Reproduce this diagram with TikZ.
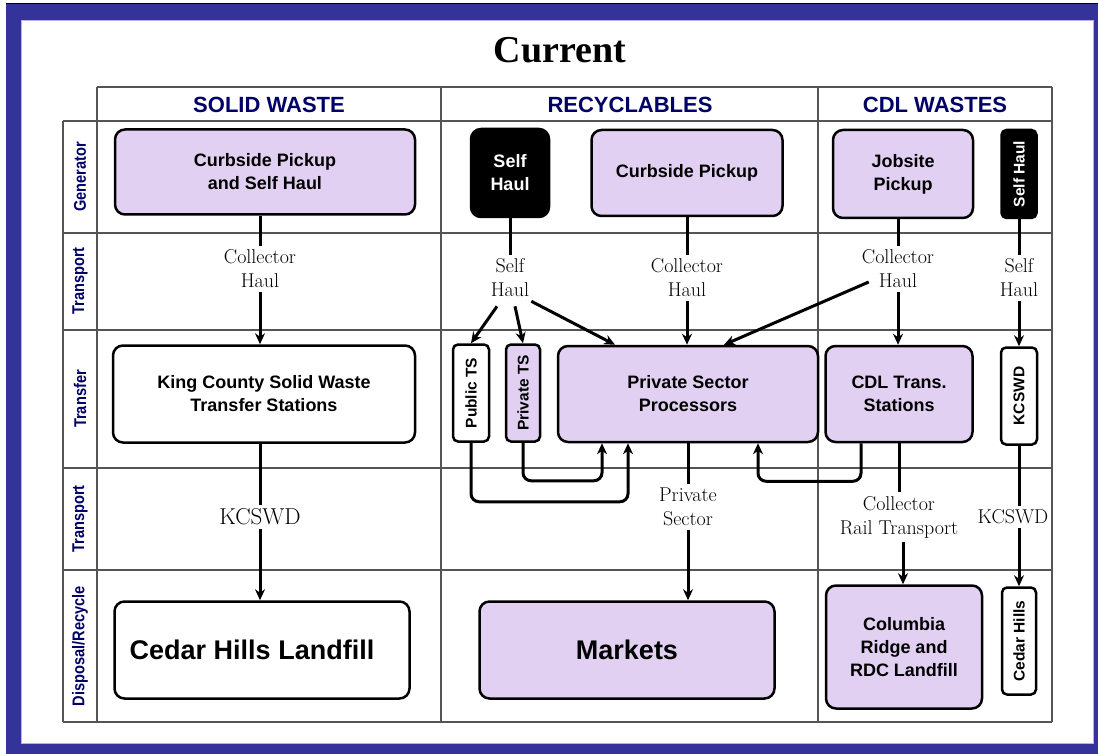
\documentclass[tikz,border=0pt]{standalone}
\usepackage{fontspec}
\usetikzlibrary{arrows.meta}
\newfontfamily\sansbold{Liberation Sans}
\newfontfamily\rowfont{Liberation Sans}[FakeStretch=0.86]
\newfontfamily\titlefont{Liberation Serif}
\definecolor{framebl}{RGB}{51,51,153}
\definecolor{framelav}{RGB}{196,170,240}
\definecolor{boxlav}{RGB}{226,208,242}
\definecolor{headnavy}{RGB}{0,0,102}
\definecolor{gridgray}{RGB}{85,85,85}
\tikzset{
	lavbox/.style={draw, line width=2.5pt, rounded corners=10pt, fill=boxlav, align=center, inner sep=0pt,
		font=\sansbold\bfseries\fontsize{18}{23}\selectfont},
	whitebox/.style={lavbox, fill=white},
	blackbox/.style={lavbox, fill=black, text=white},
	thinbox/.style={rounded corners=5pt, font=\sansbold\bfseries\fontsize{15.5}{18}\selectfont},
	bigtext/.style={font=\sansbold\bfseries\fontsize{27}{32}\selectfont},
	haultext/.style={align=center, inner sep=4pt, font=\fontsize{20}{24}\selectfont},
	colhead/.style={text=headnavy, font=\sansbold\bfseries\fontsize{22}{26}\selectfont},
	rowhead/.style={text=headnavy, rotate=90, font=\rowfont\bfseries\fontsize{17}{20}\selectfont},
	gridline/.style={draw=gridgray, line width=1.3pt},
	flowline/.style={line width=3pt},
	flowarrow/.style={line width=3pt, -{Stealth[length=11pt,width=10pt]}}
}
\begin{document}
\begin{tikzpicture}[x=1pt,y=-1pt]
		\useasboundingbox (0,0) rectangle (1098,754);

		% frame
		\fill[framebl] (6,4) rectangle (1098,754);
		\fill[white] (21,21) rectangle (1093,743);
		\draw[framelav, line width=1pt] (21,21) rectangle (1093,743);
		\draw[black, line width=1pt] (6,4) -- (1098,4);

		\node at (560,50) {\titlefont\bfseries\fontsize{38}{44}\selectfont Current};

		% table
		\draw[gridline] (97,87) -- (1052,87);
		\draw[gridline] (63,121) -- (1052,121);
		\draw[gridline] (63,233) -- (1052,233);
		\draw[gridline] (63,330) -- (1052,330);
		\draw[gridline] (63,468) -- (1052,468);
		\draw[gridline] (63,570) -- (1052,570);
		\draw[gridline] (63,722) -- (1052,722);

		\draw[gridline] (63,121) -- (63,722);
		\draw[gridline] (97,87) -- (97,722);
		\draw[gridline] (441,87) -- (441,722);
		\draw[gridline] (818,87) -- (818,722);
		\draw[gridline] (1052,87) -- (1052,722);

		\node[colhead] (sw_head) at (269,105) {SOLID WASTE};
		\node[colhead] (rc_head) at (630,105) {RECYCLABLES};
		\node[colhead] (cdl_head) at (935,105) {CDL WASTES};

		\node[rowhead] (gen_row) at (80,177) {Generator};
		\node[rowhead] (tp1_row) at (80,281) {Transport};
		\node[rowhead] (tf_row) at (80,399) {Transfer};
		\node[rowhead] (tp2_row) at (80,519) {Transport};
		\node[rowhead] (dis_row) at (80,646) {Disposal/Recycle};

		% solid waste
		\node[lavbox, minimum width=300, minimum height=85] (sw_gen) at (265,172) {Curbside Pickup\\and Self Haul};
		\node[haultext] (sw_t1) at (260,269) {Collector\\Haul};
		\node[whitebox, minimum width=302, minimum height=97] (sw_ts) at (264,394) {King County Solid Waste\\Transfer Stations};
		\node[haultext, font=\fontsize{23}{26}\selectfont] (sw_t2) at (260,517) {KCSWD};
		\node[whitebox, bigtext, minimum width=295, minimum height=97] (sw_land) at (262,650) {\hspace*{-20pt}Cedar Hills Landfill};

		% recyclables
		\node[blackbox, minimum width=78, minimum height=88] (rc_self) at (510,173) {Self\\Haul};
		\node[lavbox, minimum width=191, minimum height=86] (rc_curb) at (687,173) {Curbside Pickup};
		\node[haultext] (rc_t1) at (510,278) {Self\\Haul};
		\node[haultext] (rc_t2) at (687,278) {Collector\\Haul};
		\node[whitebox, thinbox, minimum width=36, minimum height=97] (rc_pub) at (471,393) {\rotatebox{90}{Public TS}};
		\node[lavbox, thinbox, minimum width=34, minimum height=97] (rc_priv) at (523,393) {\rotatebox{90}{Private TS}};
		\node[lavbox, minimum width=260, minimum height=96] (rc_proc) at (688,394) {Private Sector\\Processors};
		\node[haultext] (rc_t3) at (688,507) {Private\\Sector};
		\node[lavbox, bigtext, minimum width=295, minimum height=97] (rc_mkt) at (627,650) {Markets};

		% cdl wastes
		\node[lavbox, minimum width=140, minimum height=88] (cdl_job) at (903,174) {Jobsite\\Pickup};
		\node[blackbox, thinbox, minimum width=35, minimum height=88] (cdl_self) at (1019,174) {\rotatebox{90}{Self Haul}};
		\node[haultext] (cdl_t1) at (898,269) {Collector\\Haul};
		\node[haultext] (cdl_t2) at (1019,278) {Self\\Haul};
		\node[lavbox, minimum width=147, minimum height=96] (cdl_ts) at (899,394) {CDL Trans.\\Stations};
		\node[whitebox, thinbox, minimum width=36, minimum height=97] (cdl_kc) at (1019,396) {\rotatebox{90}{KCSWD}};
		\node[haultext] (cdl_t3) at (899,517) {Collector\\Rail Transport};
		\node[haultext] (cdl_t4) at (1013,517) {KCSWD};
		\node[lavbox, minimum width=156, minimum height=123] (cdl_col) at (904,647) {Columbia\\Ridge and\\RDC Landfill};
		\node[whitebox, thinbox, minimum width=34, minimum height=107] (cdl_ch) at (1019,641) {\rotatebox{90}{Cedar Hills}};

		% connectors
		\draw[flowline] (sw_gen.south -| sw_t1) -- (sw_t1.north);
		\draw[flowarrow] (sw_t1.south) -- (sw_t1.south |- sw_ts.north);
		\draw[flowline] (sw_ts.south -| sw_t2) -- (sw_t2.north);
		\draw[flowarrow] (sw_t2.south) -- (sw_t2.south |- sw_land.north);

		\draw[flowline] (rc_self.south) -- (rc_t1.north);
		\draw[flowarrow] ([xshift=-13pt,yshift=-5pt]rc_t1.south) -- (rc_pub.north);
		\draw[flowarrow] ([xshift=5pt,yshift=-5pt]rc_t1.south) -- (rc_priv.north);
		\draw[flowarrow] ([xshift=-2pt]rc_t1.south east) -- ([xshift=-73pt]rc_proc.north);
		\draw[flowline] (rc_curb.south) -- (rc_t2.north);
		\draw[flowarrow] (rc_t2.south) -- (rc_t2.south |- rc_proc.north);
		\draw[flowarrow] ([xshift=11pt,yshift=-13pt]cdl_t1.west) -- ([xshift=36pt]rc_proc.north);
		\draw[flowarrow, rounded corners=8pt] (rc_pub.south) -- ++(0,59) -| ([xshift=-60pt]rc_proc.south);
		\draw[flowarrow, rounded corners=8pt] (rc_priv.south) -- ++(0,38) -| ([xshift=-86pt]rc_proc.south);
		\draw[flowarrow, rounded corners=8pt] ([xshift=-38pt]cdl_ts.south) -- ++(0,38) -| ([xshift=70pt]rc_proc.south);
		\draw[flowline] (rc_proc.south) -- (rc_t3.north);
		\draw[flowarrow] (rc_t3.south) -- (rc_t3.south |- rc_mkt.north);

		\draw[flowline] (cdl_job.south -| cdl_t1) -- (cdl_t1.north);
		\draw[flowarrow] (cdl_t1.south) -- (cdl_t1.south |- cdl_ts.north);
		\draw[flowline] (cdl_self.south) -- (cdl_t2.north);
		\draw[flowarrow] (cdl_t2.south) -- (cdl_kc.north);
		\draw[flowline] (cdl_ts.south -| cdl_t3) -- (cdl_t3.north);
		\draw[flowarrow] ([xshift=4pt]cdl_t3.south) -- ([xshift=4pt]cdl_t3.south |- cdl_col.north);
		\draw[flowline] (cdl_kc.south) -- (cdl_kc.south |- cdl_t4.north);
		\draw[flowarrow] (cdl_t4.south -| cdl_ch) -- (cdl_ch.north);
	\end{tikzpicture}
\end{document}
